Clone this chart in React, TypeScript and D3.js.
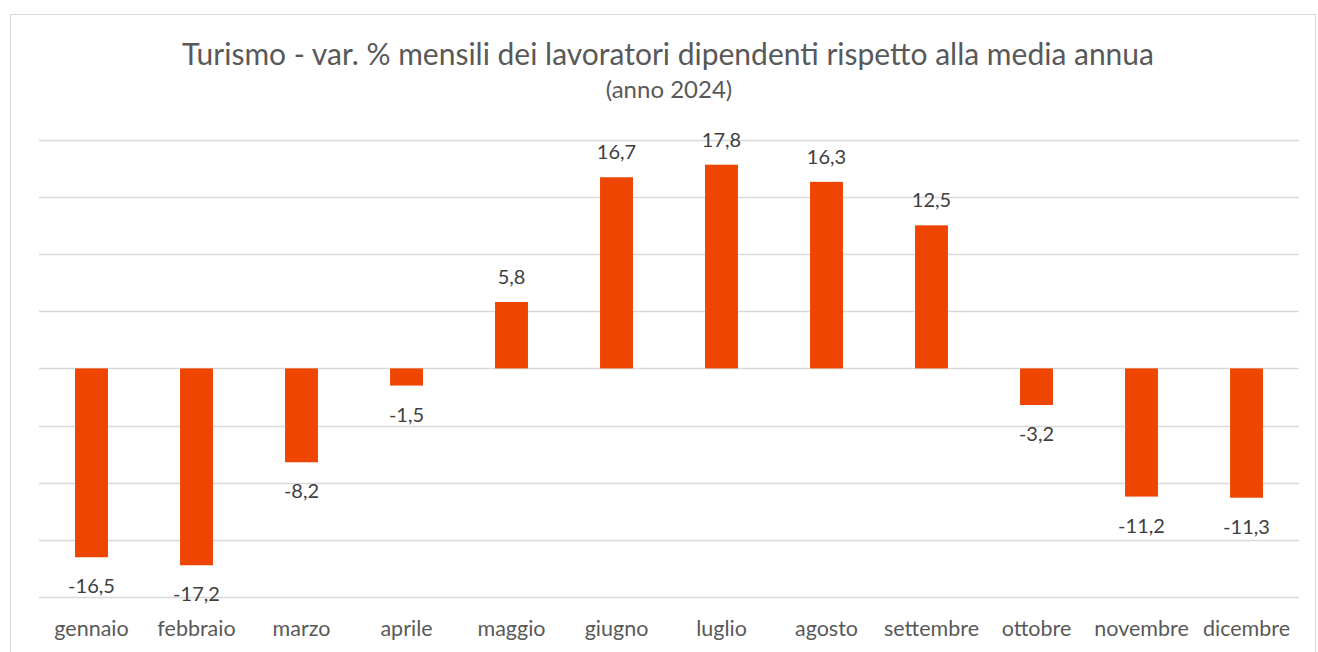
import React from "react";
import * as d3 from "d3";

const months = ["gennaio","febbraio","marzo","aprile","maggio","giugno","luglio","agosto","settembre","ottobre","novembre","dicembre"];
const values = [-16.5,-17.2,-8.2,-1.5,5.8,16.7,17.8,16.3,12.5,-3.2,-11.2,-11.3];
const yTicks = [-20,-15,-10,-5,0,5,10,15,20];
const title = "Turismo - var. % mensili dei lavoratori dipendenti rispetto alla media annua";
const subtitle = "(anno 2024)";

const W = 1318, H = 652;
const FONT = "Lato, 'Open Sans', sans-serif";

export default function App() {
  const band = d3.scaleBand<string>().domain(months).range([39, 1299]);
  const y = d3.scaleLinear().domain([-20, 20]).range([597.3, 139.5]);
  const fmt = (v: number) => v.toFixed(1).replace(".", ",");
  const bw = band.bandwidth() / 3.19;
  return (
    <svg width={W} height={H} style={{ position: "absolute", left: 0, top: 0 }} fontFamily={FONT}>
      <rect x={0} y={0} width={W} height={H} fill="#fff" />
      <rect x={10.5} y={14.5} width={1305} height={660} fill="none" stroke="#d9d9d9" strokeWidth={1} />
      <text x={668} y={65} textAnchor="middle" fontSize={30} fill="#595959">{title}</text>
      <text x={669} y={98} textAnchor="middle" fontSize={24} fill="#595959">{subtitle}</text>
      {yTicks.map(t => (
        <line key={t} x1={39} x2={1299} y1={Math.round(y(t)) + 0.5} y2={Math.round(y(t)) + 0.5} stroke="#d9d9d9" strokeWidth={1.3} />
      ))}
      {months.map((m, i) => {
        const v = values[i];
        const y0 = y(0), y1 = y(v);
        const cx = band(m)! + band.bandwidth() / 2;
        return (
          <g key={m}>
            <rect x={cx - bw / 2} y={Math.min(y0, y1)} width={bw} height={Math.abs(y1 - y0)} fill="#EE4500" />
            <text x={cx} y={v >= 0 ? y1 - 18 : y1 + 36} textAnchor="middle" fontSize={20} fill="#404040">{fmt(v)}</text>
            <text x={cx} y={636} textAnchor="middle" fontSize={21.5} fill="#595959">{m}</text>
          </g>
        );
      })}
    </svg>
  );
}
